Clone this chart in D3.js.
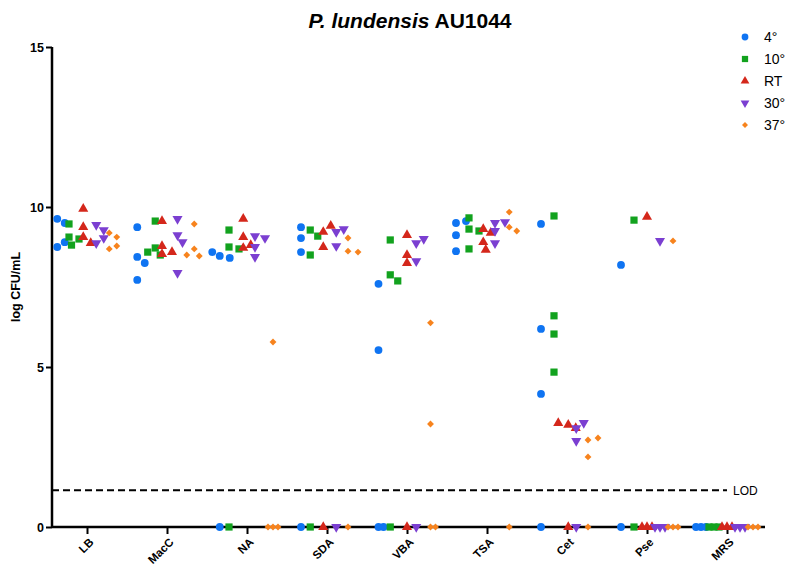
<!DOCTYPE html>
<html>
<head>
<meta charset="utf-8">
<script src="https://cdn.jsdelivr.net/npm/d3@7"></script>
<style>
  html, body { margin: 0; padding: 0; background: #fff; }
  svg { display: block; font-family: "Liberation Sans", Arial, sans-serif; }
</style>
</head>
<body>
<svg id="chart" width="788" height="569"></svg>
<script>
// Growth media and incubation temperatures
const categories = ["LB", "MacC", "NA", "SDA", "VBA", "TSA", "Cet", "Pse", "MRS"];
const seriesNames = ["4°", "10°", "RT", "30°", "37°"];
const yTicks = [0, 5, 10, 15];
const lodValue = 1.15;

// log CFU/mL per medium (one inner list per category, replicates in order)
const cfu4 = [
  [9.63, 9.5, 8.75, 8.9],
  [9.37, 8.44, 8.25, 7.72],
  [8.47, 8.41, 8.59, 0],
  [9.37, 9.03, 8.59, 0],
  [7.6, 5.53, 0, 0],
  [9.5, 9.56, 9.12, 8.62],
  [9.47, 6.19, 4.16, 0],
  [8.19, 0],
  [0, 0, 0]
];
const cfu10 = [
  [9.47, 9.06, 8.81, 9.0],
  [9.56, 8.72, 8.5, 8.59],
  [9.28, 8.75, 8.69, 0],
  [9.28, 9.09, 8.5, 0],
  [8.97, 7.88, 7.69, 0],
  [9.66, 9.31, 9.25, 8.69],
  [9.72, 6.6, 6.03, 4.84],
  [9.59, 0],
  [0, 0, 0]
];
const cfuRT = [
  [9.94, 9.37, 9.06, 8.87],
  [9.56, 8.78, 8.53, 8.59],
  [9.63, 9.06, 8.72, 8.81],
  [9.22, 9.41, 8.75, 0],
  [9.12, 8.5, 8.25, 0],
  [9.31, 9.19, 8.9, 8.66],
  [3.19, 3.09, 3.25, 0],
  [9.69, 0, 0, 0],
  [0, 0, 0]
];
const cfu30 = [
  [9.44, 9.28, 8.87, 9.03],
  [9.63, 9.12, 8.9, 7.94],
  [9.09, 9.03, 8.75, 8.44],
  [9.22, 9.31, 8.78, 0],
  [8.87, 9.0, 8.31, 0],
  [9.5, 9.53, 9.25, 8.87],
  [3.09, 3.25, 2.69, 0],
  [8.94, 0, 0, 0],
  [0, 0, 0]
];
const cfu37 = [
  [9.19, 9.06, 8.69, 8.78],
  [9.47, 8.69, 8.47, 8.5],
  [5.78, 0, 0, 0],
  [9.03, 8.62, 8.59, 0],
  [6.38, 3.22, 0, 0],
  [9.84, 9.37, 9.25, 0],
  [2.72, 2.78, 2.19, 0],
  [8.94, 0, 0, 0],
  [0, 0, 0]
];

const seriesValues = [cfu4, cfu10, cfuRT, cfu30, cfu37];
const colors = ["#0f74f2", "#12a21e", "#d4271b", "#7b3fd1", "#f7831d"];

const svg = d3.select("#chart");
const margin = { left: 52, right: 23, top: 47, bottom: 42 };
const W = 788, H = 569;
const plotRight = W - margin.right;

const x = d3.scalePoint().domain(categories).range([87, 727]);
const y = d3.scaleLinear().domain([0, 15]).range([H - margin.bottom, margin.top]);
const seriesOffset = d3.scalePoint().domain(seriesNames).range([-26, 26]);

// Marker shapes per series
const symbols = [
  { type: d3.symbolCircle, size: 48, rot: 0 },
  { type: d3.symbolSquare, size: 52, rot: 0 },
  { type: d3.symbolTriangle, size: 44, rot: 0 },
  { type: d3.symbolTriangle, size: 44, rot: 180 },
  { type: d3.symbolDiamond2, size: 30, rot: 0 }
];

// Title
const title = svg.append("text")
  .attr("x", 410).attr("y", 28)
  .attr("text-anchor", "middle")
  .style("font-size", "21px").style("font-weight", "bold");
title.append("tspan").style("font-style", "italic").text("P. lundensis");
title.append("tspan").text(" AU1044");

// Y axis
const yAxis = svg.append("g")
  .attr("transform", `translate(${margin.left},0)`)
  .call(d3.axisLeft(y).tickValues(yTicks).tickSize(6).tickPadding(2));
yAxis.select(".domain").attr("stroke-width", 2.5).attr("d", `M0,${y(15)}V${y(0)}`);
yAxis.selectAll(".tick line").attr("stroke-width", 2);
yAxis.selectAll(".tick text")
  .style("font-size", "12.5px").style("font-weight", "bold").style("font-family", "Liberation Sans, Arial, sans-serif")
  .attr("fill", "#000");

svg.append("text")
  .attr("transform", `translate(20,${(y(0) + y(15)) / 2}) rotate(-90)`)
  .attr("text-anchor", "middle")
  .style("font-size", "12.5px").style("font-weight", "bold")
  .text("log CFU/mL");

// X axis
const xAxis = svg.append("g")
  .attr("transform", `translate(0,${y(0)})`)
  .call(d3.axisBottom(x).tickSize(7).tickPadding(4));
xAxis.select(".domain").attr("stroke-width", 2.5).attr("d", `M${margin.left},0H${plotRight}`);
xAxis.selectAll(".tick line").attr("stroke-width", 2);
xAxis.selectAll(".tick text")
  .style("font-size", "11.5px").style("font-weight", "bold").style("font-family", "Liberation Sans, Arial, sans-serif")
  .attr("fill", "#000")
  .attr("text-anchor", "end")
  .attr("x", 0).attr("y", 0)
  .attr("dx", 0).attr("dy", "0.35em")
  .attr("transform", "translate(4,13) rotate(-45)");

// Limit of detection
svg.append("line")
  .attr("x1", margin.left).attr("x2", x("MRS"))
  .attr("y1", y(lodValue)).attr("y2", y(lodValue))
  .attr("stroke", "#000").attr("stroke-width", 2)
  .attr("stroke-dasharray", "7,4");
svg.append("text")
  .attr("x", x("MRS") + 6).attr("y", y(lodValue) + 4.5)
  .style("font-size", "12px")
  .text("LOD");

// Spread replicates sideways so markers do not overlap (simple beeswarm);
// markers on the same row may sit closer together than staggered ones
function spread(vals) {
  const step = 2.5, sameRow = 5, minDist = 8;
  const placed = [];
  vals.forEach(v => {
    const py = y(v);
    const cands = [0];
    for (let k = 1; k < 12; k++) { cands.push(k * step, -k * step); }
    let off = 0;
    for (const c of cands) {
      const ok = placed.every(p => {
        const dy = Math.abs(p.py - py);
        return dy < 0.01 ? Math.abs(p.dx - c) >= sameRow : Math.hypot(p.dx - c, dy) >= minDist;
      });
      if (ok) { off = c; break; }
    }
    placed.push({ v, py, dx: off });
  });
  const ext = d3.extent(placed, p => p.dx);
  const shift = (ext[0] + ext[1]) / 2;
  placed.forEach(p => p.dx -= shift);
  return placed;
}

const points = [];
seriesValues.forEach((series, si) => {
  series.forEach((vals, ci) => {
    spread(vals).forEach(p => {
      points.push({ si, cat: categories[ci], v: p.v, dx: p.dx });
    });
  });
});

svg.append("g").selectAll("path")
  .data(points)
  .join("path")
  .attr("d", d => d3.symbol(symbols[d.si].type, symbols[d.si].size)())
  .attr("transform", d => `translate(${x(d.cat) + seriesOffset(seriesNames[d.si]) + d.dx},${y(d.v)}) rotate(${symbols[d.si].rot})`)
  .attr("fill", d => colors[d.si]);

// Legend
const legend = svg.append("g").attr("transform", "translate(745,37)");
seriesNames.forEach((name, i) => {
  const row = legend.append("g").attr("transform", `translate(0,${i * 22})`);
  row.append("path")
    .attr("d", d3.symbol(symbols[i].type, symbols[i].size * 0.75)())
    .attr("transform", `rotate(${symbols[i].rot})`)
    .attr("fill", colors[i]);
  row.append("text")
    .attr("x", 19).attr("y", 5)
    .style("font-size", "14px")
    .text(name);
});
</script>
</body>
</html>
